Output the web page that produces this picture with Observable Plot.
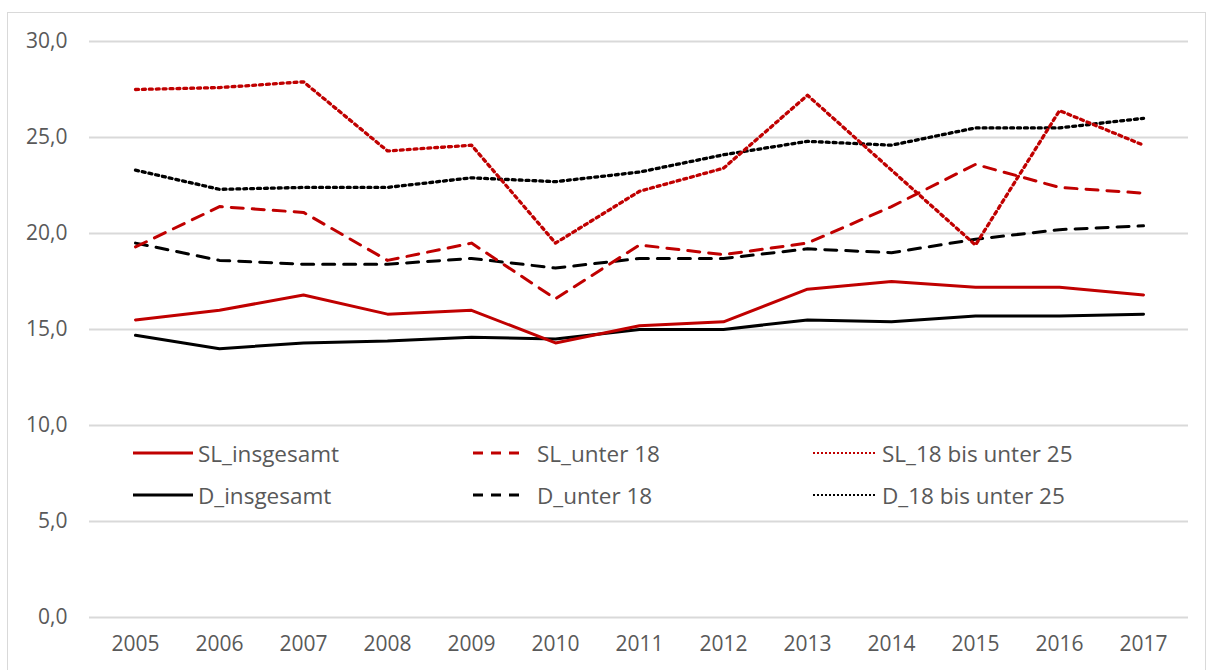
<!DOCTYPE html>
<html>
<head>
<meta charset="utf-8">
<script src="https://cdn.jsdelivr.net/npm/d3@7"></script>
<script src="https://cdn.jsdelivr.net/npm/@observablehq/plot@0.6"></script>
<style>
  html, body { margin: 0; padding: 0; background: #fff; }
  #wrap { position: relative; width: 1212px; height: 670px; overflow: hidden; font-family: "Open Sans", Lato, sans-serif; }
  #border { position: absolute; left: 7px; top: 12px; width: 1199px; height: 700px; border: 1.5px solid #d9d9d9; box-sizing: border-box; }
  #chart { position: absolute; left: 0; top: 0; }
  .leg { position: absolute; font-size: 22.5px; color: #595959; display: flex; align-items: center; white-space: nowrap; }
  .leg svg { margin-right: 5px; }
</style>
</head>
<body>
<div id="wrap">
  <div id="border"></div>
  <div id="chart"></div>
  <div id="legend"></div>
</div>
<script>
const years = [2005, 2006, 2007, 2008, 2009, 2010, 2011, 2012, 2013, 2014, 2015, 2016, 2017];
const seriesNames = ["SL_insgesamt", "SL_unter 18", "SL_18 bis unter 25", "D_insgesamt", "D_unter 18", "D_18 bis unter 25"];
const SL_insgesamt = [15.5, 16.0, 16.8, 15.8, 16.0, 14.3, 15.2, 15.4, 17.1, 17.5, 17.2, 17.2, 16.8];
const SL_unter18 = [19.3, 21.4, 21.1, 18.6, 19.5, 16.6, 19.4, 18.9, 19.5, 21.4, 23.6, 22.4, 22.1];
const SL_18bis25 = [27.5, 27.6, 27.9, 24.3, 24.6, 19.5, 22.2, 23.4, 27.2, 23.3, 19.4, 26.4, 24.6];
const D_insgesamt = [14.7, 14.0, 14.3, 14.4, 14.6, 14.5, 15.0, 15.0, 15.5, 15.4, 15.7, 15.7, 15.8];
const D_unter18 = [19.5, 18.6, 18.4, 18.4, 18.7, 18.2, 18.7, 18.7, 19.2, 19.0, 19.7, 20.2, 20.4];
const D_18bis25 = [23.3, 22.3, 22.4, 22.4, 22.9, 22.7, 23.2, 24.1, 24.8, 24.6, 25.5, 25.5, 26.0];
const yTicks = [0, 5, 10, 15, 20, 25, 30];

const seriesValues = [SL_insgesamt, SL_unter18, SL_18bis25, D_insgesamt, D_unter18, D_18bis25];
const RED = "#c00000", BLACK = "#000000";
const styles = [
  {color: RED, kind: "solid"},
  {color: RED, kind: "dash"},
  {color: RED, kind: "dot"},
  {color: BLACK, kind: "solid"},
  {color: BLACK, kind: "dash"},
  {color: BLACK, kind: "dot"}
];

const fmt = d => d.toFixed(1).replace(".", ",");

const lineMarks = seriesValues.map((vals, i) => {
  const data = years.map((y, j) => ({year: String(y), value: vals[j]}));
  const opts = {x: "year", y: "value", stroke: styles[i].color, strokeWidth: 3, strokeLinejoin: "round"};
  if (styles[i].kind === "dash") opts.strokeDasharray = "12,9";
  if (styles[i].kind === "dot") { opts.strokeDasharray = "3,3.9"; opts.strokeWidth = 3.3; }
  return Plot.line(data, opts);
});

const chart = Plot.plot({
  width: 1212,
  height: 670,
  marginTop: 41,
  marginBottom: 53,
  marginLeft: 89,
  marginRight: 24,
  style: {fontFamily: "'Open Sans', Lato, sans-serif", fontSize: "21px", color: "#595959", background: "transparent"},
  x: {type: "point", domain: years.map(String), padding: 0.5, label: null},
  y: {domain: [0, 30], label: null},
  marks: [
    Plot.ruleY(yTicks, {stroke: "#d9d9d9", strokeWidth: 2}),
    Plot.axisY(yTicks, {tickSize: 0, tickPadding: 22, tickFormat: fmt, fill: "#595959", fontSize: 21}),
    Plot.axisX(years.map(String), {tickSize: 0, tickPadding: 19, fill: "#595959", fontSize: 21}),
    ...lineMarks.slice(3),
    ...lineMarks.slice(0, 3)
  ]
});
document.getElementById("chart").appendChild(chart);

// Legend
const legPos = [
  {left: 133, top: 453}, {left: 473, top: 453}, {left: 813, top: 453},
  {left: 133, top: 495}, {left: 473, top: 495}, {left: 813, top: 495}
];
const sampleW = [60, 54, 64, 60, 54, 64];
const legend = document.getElementById("legend");
seriesNames.forEach((name, i) => {
  const div = document.createElement("div");
  div.className = "leg";
  div.style.left = legPos[i].left + "px";
  div.style.top = (legPos[i].top - 16) + "px";
  div.style.height = "32px";
  const w = sampleW[i];
  const k = styles[i].kind;
  const dash = k === "dash" ? ` stroke-dasharray="10,8"` : k === "dot" ? ` stroke-dasharray="2,2"` : "";
  const sw = k === "dot" ? 2 : 3;
  div.innerHTML = `<svg width="${w}" height="10"><line x1="0" y1="5" x2="${w}" y2="5" stroke="${styles[i].color}" stroke-width="${sw}"${dash}/></svg><span>${name}</span>`;
  if (k === "dash") div.querySelector("svg").style.marginRight = "10px";
  legend.appendChild(div);
});
</script>
</body>
</html>
